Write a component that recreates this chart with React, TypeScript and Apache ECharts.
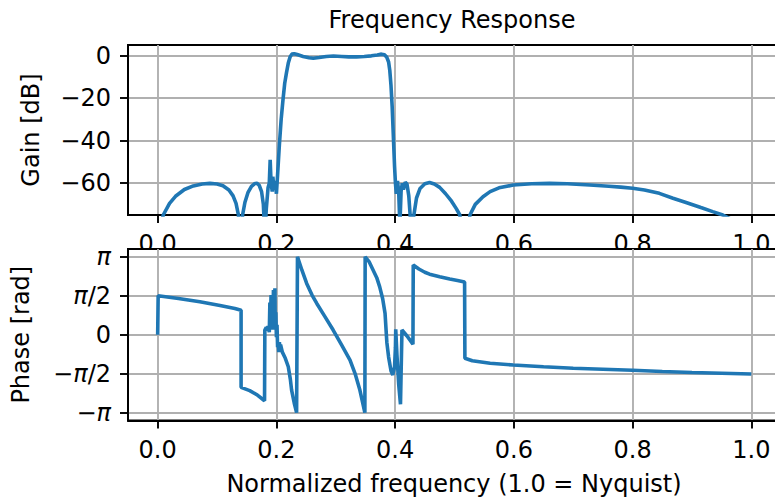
import React, { useEffect, useRef } from 'react';
import * as echarts from 'echarts';

const gainFreq = [
  0.0, 0.004, 0.0094, 0.02, 0.03, 0.045, 0.06, 0.075, 0.088, 0.1, 0.11, 0.12, 0.127, 0.132, 0.136, 0.1395,
  0.143, 0.147, 0.152, 0.158, 0.163, 0.167, 0.171, 0.175, 0.178, 0.1805,
  0.183, 0.186, 0.188, 0.1895, 0.191, 0.193, 0.194, 0.196, 0.198, 0.2, 0.202, 0.205, 0.208, 0.211, 0.214,
  0.217, 0.22, 0.223, 0.226, 0.23, 0.235, 0.245, 0.255, 0.262, 0.272, 0.284, 0.296, 0.31, 0.322, 0.335,
  0.348, 0.36, 0.37, 0.377, 0.382, 0.386, 0.389, 0.391, 0.393, 0.395, 0.397, 0.399, 0.4005, 0.402, 0.404,
  0.406, 0.408, 0.41, 0.412, 0.414, 0.417, 0.42, 0.423, 0.426, 0.428, 0.431, 0.436, 0.442, 0.45, 0.458,
  0.466, 0.475, 0.485, 0.495, 0.503, 0.509, 0.517, 0.526, 0.535, 0.548, 0.56, 0.575, 0.599, 0.63, 0.66,
  0.69, 0.728, 0.76, 0.78, 0.8, 0.82, 0.845, 0.868, 0.89, 0.915, 0.935, 0.952, 0.98, 1.0,
];
const gainDb = [
  -95, -82, -75, -69.5, -66.2, -63, -61.3, -60.4, -60.1, -60.4, -61.2, -63.2, -66, -69.5, -75, -92,
  -75, -69, -64.5, -61.5, -60.3, -60, -61, -64, -70, -85,
  -72, -62, -60, -49, -60, -64, -57, -63, -59, -65, -56, -42, -30, -21, -13,
  -8, -3.5, -0.6, 0.7, 0.9, 0.5, -0.4, -1.0, -1.2, -0.9, -0.4, -0.2, -0.4, -0.6, -0.6,
  -0.4, -0.1, 0.3, 0.7, 0.4, -0.8, -3, -7, -14, -24, -38, -52, -60, -65, -59,
  -64, -80, -64, -60, -63, -59.5, -60.5, -66, -78, -92, -76, -67, -62.5, -60.3, -59.7,
  -60.4, -62, -65, -68.5, -72, -75, -95, -75, -70, -66.4, -64, -62.2, -60.9, -60.3, -60.1,
  -60.3, -60.9, -61.5, -61.9, -62.4, -63.2, -64.8, -67.1, -69.1, -71.5, -73.4, -75, -79, -82,
];

const phaseFreq = [
  0.0, 0.0008, 0.035, 0.071, 0.105, 0.13, 0.1405, 0.1405, 0.155, 0.168, 0.18,
  0.1805, 0.183, 0.185, 0.186, 0.188, 0.189, 0.19, 0.191, 0.192, 0.193, 0.194, 0.195, 0.196, 0.1975,
  0.198, 0.199, 0.2, 0.201, 0.202, 0.203, 0.204, 0.205, 0.206, 0.207, 0.21, 0.215, 0.22, 0.2235, 0.2256,
  0.23, 0.234, 0.2355, 0.243, 0.251, 0.26, 0.268, 0.282, 0.2956, 0.31, 0.324, 0.333, 0.3406, 0.349,
  0.3495, 0.356, 0.363, 0.369, 0.374, 0.379, 0.383, 0.386, 0.389, 0.393, 0.396, 0.399, 0.4005, 0.401,
  0.403, 0.406, 0.409, 0.4115, 0.42, 0.43, 0.4305, 0.44, 0.45, 0.458, 0.475, 0.492, 0.505, 0.517,
  0.5175, 0.53, 0.56, 0.599, 0.65, 0.7, 0.75, 0.8, 0.85, 0.9, 0.95, 1.0,
];
const phaseRad = [
  0, 1.57, 1.46, 1.33, 1.18, 1.06, 0.99, -2.12, -2.25, -2.43, -2.66,
  0.19, 0.3, 0.18, 0.35, 0.1, 1.3, 0.5, 1.6, 0.6, 1.5, 0.2, 1.8, 0.4, 1.87,
  0.3, 0.9, -0.1, 0.4, -0.5, -0.3, -0.7, -0.3, -0.6, -0.4, -0.7, -0.95, -1.29, -1.8, -2.23,
  -2.75, -3.14, 3.14, 2.6, 2.07, 1.6, 1.26, 0.72, 0.19, -0.42, -1.02, -1.6, -2.23, -3.14,
  3.14, 2.95, 2.6, 2.3, 1.93, 1.45, 0.86, -0.3, -0.9, -1.45, -1.62, -1.3, -0.5, 0.22,
  -0.8, -2.0, -2.8, 0.19, -0.05, -0.38, 2.81, 2.65, 2.52, 2.44, 2.34, 2.25, 2.19, 2.13,
  -0.95, -1.05, -1.15, -1.22, -1.29, -1.35, -1.39, -1.43, -1.48, -1.52, -1.55, -1.58,
];

const xTicks = [0, 0.2, 0.4, 0.6, 0.8, 1.0];
const gainTicks = [-60, -40, -20, 0];
const phaseTicks = [-Math.PI, -Math.PI / 2, 0, Math.PI / 2, Math.PI];
const phaseTickLabels = ['−{p|π}', '−{p|π}/2', '0', '{p|π}/2', '{p|π}'];

const titleText = 'Frequency Response';
const gainLabel = 'Gain [dB]';
const phaseLabel = 'Phase [rad]';
const xLabel = 'Normalized frequency (1.0 = Nyquist)';

const FONT = 'DejaVu Sans';
const BLUE = '#1f77b4';

export default function App() {
  const ref = useRef<HTMLDivElement>(null);
  useEffect(() => {
    const chart = echarts.init(ref.current!, null, { renderer: 'svg' });
    const lineW = 1.9;
    const axisLine = { show: true, onZero: false, lineStyle: { color: '#000', width: lineW } };
    const splitLine = { show: true, lineStyle: { color: '#b0b0b0', width: lineW } };
    const labelBase = { fontSize: 24, color: '#000', fontFamily: FONT, margin: 17, hideOverlap: false, showMinLabel: true, showMaxLabel: true };
    const tick = (vals: number[]) => ({ show: true, length: 8, inside: false, lineStyle: { color: '#000', width: lineW }, customValues: vals });
    const fmtNum = (v: number) => (v < 0 ? '−' + Math.abs(v) : String(v));

    const xAxisFor = (i: number) => ({
      type: 'value', gridIndex: i, min: -0.05, max: 1.05, z: i === 0 ? 0 : 6,
      axisLine, splitLine, axisTick: tick(xTicks),
      axisLabel: { ...labelBase, customValues: xTicks, formatter: (v: number) => v.toFixed(1) },
    });

    chart.setOption({
      animation: false,
      backgroundColor: '#fff',
      grid: [
        { left: 128, top: 45, width: 653, height: 170, outerBoundsMode: 'none', containLabel: false, show: true, borderColor: '#000', borderWidth: lineW, backgroundColor: 'transparent', z: 0 },
        { left: 128, top: 249, width: 653, height: 171.5, outerBoundsMode: 'none', containLabel: false, show: true, borderColor: '#000', borderWidth: lineW, backgroundColor: '#fff', z: 6 },
      ],
      xAxis: [xAxisFor(0), xAxisFor(1)],
      yAxis: [
        {
          type: 'value', gridIndex: 0, min: -75, max: 5, z: 0,
          axisLine, splitLine, axisTick: tick(gainTicks),
          axisLabel: { ...labelBase, customValues: gainTicks, formatter: (v: number) => fmtNum(v) },
        },
        {
          type: 'value', gridIndex: 1, min: -1.1 * Math.PI, max: 1.1 * Math.PI, z: 6,
          axisLine, splitLine, axisTick: tick(phaseTicks),
          axisLabel: {
            ...labelBase, customValues: phaseTicks,
            formatter: (v: number) => {
              let best = 0;
              phaseTicks.forEach((t, k) => { if (Math.abs(t - v) < Math.abs(phaseTicks[best] - v)) best = k; });
              return phaseTickLabels[best];
            },
            rich: { p: { fontStyle: 'italic', fontSize: 24, fontFamily: FONT, color: '#000' } },
          },
        },
      ],
      series: [
        {
          type: 'line', xAxisIndex: 0, yAxisIndex: 0, z: 2, showSymbol: false, clip: true,
          lineStyle: { color: BLUE, width: 3.6 }, itemStyle: { color: BLUE },
          data: gainFreq.map((f, k) => [f, gainDb[k]]),
        },
        {
          type: 'line', xAxisIndex: 1, yAxisIndex: 1, z: 8, showSymbol: false, clip: true,
          lineStyle: { color: BLUE, width: 3.6 }, itemStyle: { color: BLUE },
          data: phaseFreq.map((f, k) => [f, phaseRad[k]]),
        },
      ],
      graphic: [
        { type: 'text', x: 452, y: 20, z: 10, style: { text: titleText, fontSize: 24, fontFamily: FONT, fill: '#000', align: 'center', verticalAlign: 'middle' } },
        { type: 'text', x: 31, y: 130, rotation: Math.PI / 2, z: 10, style: { text: gainLabel, fontSize: 24, fontFamily: FONT, fill: '#000', align: 'center', verticalAlign: 'middle' } },
        { type: 'text', x: 21, y: 334.7, rotation: Math.PI / 2, z: 10, style: { text: phaseLabel, fontSize: 24, fontFamily: FONT, fill: '#000', align: 'center', verticalAlign: 'middle' } },
        { type: 'text', x: 454, y: 484, z: 10, style: { text: xLabel, fontSize: 24, fontFamily: FONT, fill: '#000', align: 'center', verticalAlign: 'middle' } },
      ],
    });
    return () => chart.dispose();
  }, []);
  return <div ref={ref} style={{ position: 'absolute', left: 0, top: 0, width: 775, height: 499 }} />;
}
